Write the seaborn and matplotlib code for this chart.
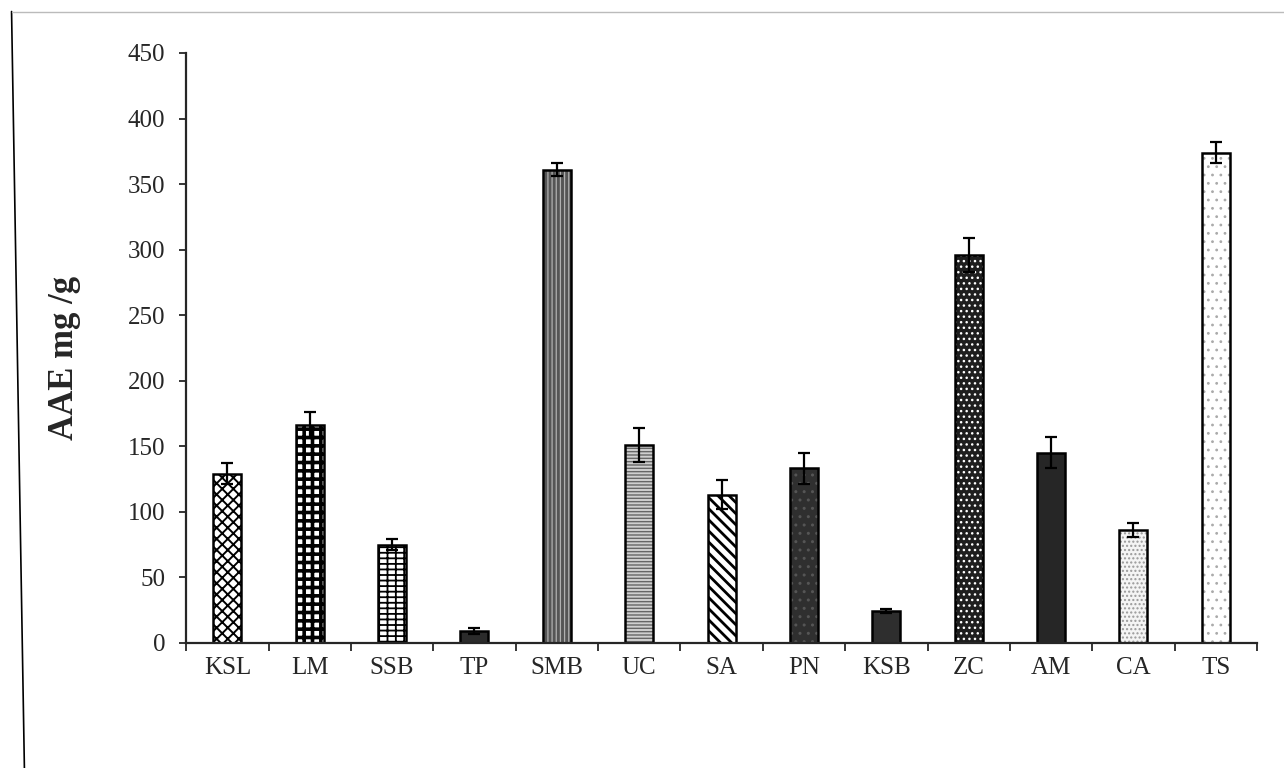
import numpy as np
import matplotlib
matplotlib.use("Agg")
import matplotlib.pyplot as plt
from matplotlib.colors import to_rgba
from matplotlib.lines import Line2D
import seaborn as sns

# values
categories = ["KSL", "LM", "SSB", "TP", "SMB", "UC", "SA", "PN", "KSB", "ZC", "AM", "CA", "TS"]
values = [129, 166, 75, 9, 361, 151, 113, 133, 24, 296, 145, 86, 374]
errors = [8, 10, 4, 2, 5, 13, 11, 12, 1.5, 13, 12, 5.5, 8]

# fill / hatch per bar, imitating the print patterns
fills = ["white", "white", "white", "#2b2b2b", "#555555", "#cfcfcf", "white",
         "#2f2f2f", "#2e2e2e", "#1e1e1e", "#262626", "#f4f4f4", "white"]
hatches = ["xxx", "++", "---||", "", "||||", "-----", "\\\\\\", "..", "", "...", "", "....", ".."]
hatch_cols = ["black", "black", "black", "black", "#b0b0b0", "#666666", "black",
              "#555555", "black", "white", "black", "#999999", "#aaaaaa"]
hatch_lws = [1.4, 2.6, 1.3, 1, 0.9, 1.0, 2.0, 1.0, 1, 1.0, 1, 1.0, 0.8]

sns.set_style("ticks")
plt.rcParams["font.family"] = ["Liberation Serif", "DejaVu Serif"]
plt.rcParams["hatch.linewidth"] = 1.3

fig = plt.figure(figsize=(12.84, 7.68), dpi=100)
ax = fig.add_axes([0.145, 0.163, 0.834, 0.768])

sns.barplot(x=categories, y=values, color="white", width=0.34,
            edgecolor="black", linewidth=1.8, ax=ax)

for bar, fc, h, hc, hl in zip(ax.patches, fills, hatches, hatch_cols, hatch_lws):
    bar.set_facecolor(fc)
    bar.set_hatch(h)
    bar._hatch_color = to_rgba(hc)
    if hasattr(bar, "set_hatch_linewidth"):
        bar.set_hatch_linewidth(hl)
    else:
        bar._hatch_linewidth = hl
    bar.set_zorder(2)

ax.errorbar(np.arange(len(categories)), values, yerr=errors, fmt="none",
            ecolor="black", elinewidth=1.6, capsize=4.5, capthick=1.6, zorder=3)

ax.set_ylim(0, 450)
ax.set_yticks(np.arange(0, 451, 50))
ax.set_xlim(-0.5, len(categories) - 0.5)

# ticks sit between categories like the original
ax.set_xticks(np.arange(-0.5, len(categories), 1), minor=True)
ax.tick_params(axis="x", which="major", length=0, pad=10, labelsize=18)
ax.tick_params(axis="x", which="minor", length=6, width=1.3, direction="out")
ax.tick_params(axis="y", length=5, width=1.3, pad=10, labelsize=18)

for side in ["top", "right"]:
    ax.spines[side].set_visible(False)
for side in ["left", "bottom"]:
    ax.spines[side].set_linewidth(1.6)

ax.set_xlabel("")
ax.set_ylabel("AAE mg /g", fontsize=25, fontweight="bold")
ax.yaxis.set_label_coords(-0.098, 0.483)

# outer chart-area frame from the scan
fig.add_artist(Line2D([0.009, 0.019], [0.985, 0.0], color="black", lw=1.2))
fig.add_artist(Line2D([0.009, 1.0], [0.985, 0.985], color="#bbbbbb", lw=1.0))

fig.savefig("out.png", dpi=100)
